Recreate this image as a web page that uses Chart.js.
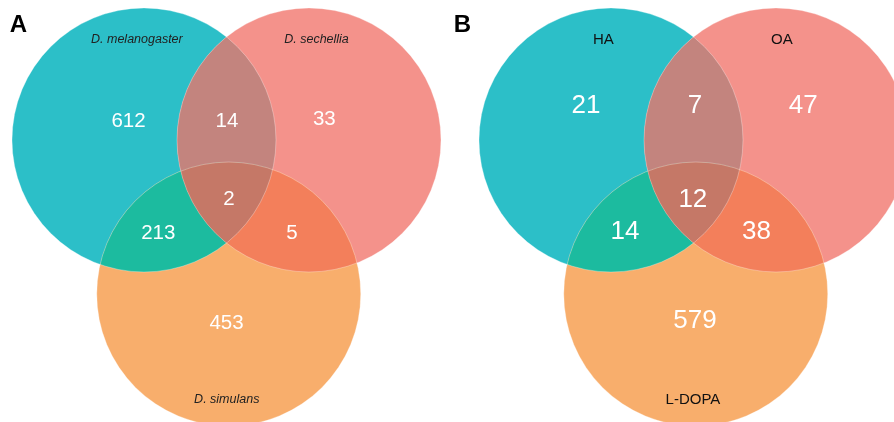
<!DOCTYPE html>
<html>
<head>
<meta charset="utf-8">
<script src="https://cdn.jsdelivr.net/npm/chart.js@4.4.0/dist/chart.umd.min.js"></script>
<style>
  html, body { margin: 0; padding: 0; background: #ffffff; }
  #wrap { display: flex; width: 894px; height: 422px; }
  .panel { position: relative; width: 447px; height: 422px; }
</style>
</head>
<body>
<div id="wrap">
  <div class="panel"><canvas id="vennA"></canvas></div>
  <div class="panel"><canvas id="vennB"></canvas></div>
</div>
<script>
// Region counts, ordered: only 1, only 2, only 3, 1∩2, 1∩3, 2∩3, 1∩2∩3
const setNamesA = ['D. melanogaster', 'D. sechellia', 'D. simulans'];
const countsA = [612, 33, 453, 14, 213, 5, 2];

const setNamesB = ['HA', 'OA', 'L-DOPA'];
const countsB = [21, 47, 579, 7, 14, 38, 12];

// Fill colours for single sets, pairwise overlaps and the triple overlap
const setColors = ['#2CBFC8', '#F4928B', '#F8AE6C'];
const pairColors = { '0-1': '#C3847E', '0-2': '#1CBB9F', '1-2': '#F37F5B' };
const tripleColor = '#C57867';

// Three equal circles (radius 1) in layout units
const circleRadius = 1;
const circleCenters = [[-0.625, 0], [0.625, 0], [0.017, -1.167]];

// Where each region's count sits, same order as the counts
const countPosA = [[-0.742, 0.152], [0.741, 0.170], [0.0, -1.377], [0.004, 0.152], [-0.517, -0.695], [0.496, -0.695], [0.019, -0.436]];
const countPosB = [[-0.814, 0.277], [0.832, 0.277], [0.011, -1.356], [0.011, 0.277], [-0.519, -0.680], [0.477, -0.680], [-0.005, -0.436]];
// Baseline anchors for the set names
const namePosA = [[-0.679, 0.733], [0.682, 0.733], [0.002, -1.989]];
const namePosB = [[-0.683, 0.727], [0.670, 0.727], [-0.004, -2.0]];

const FONT = '"Liberation Sans", Arial, Helvetica, sans-serif';

const vennPlugin = {
  id: 'vennRegions',
  afterDatasetsDraw(chart, args, opts) {
    const ctx = chart.ctx;
    const xs = chart.scales.x, ys = chart.scales.y;
    const rPx = xs.getPixelForValue(circleRadius) - xs.getPixelForValue(0);
    const circles = chart.data.datasets.map((ds, i) => {
      const el = chart.getDatasetMeta(i).data[0];
      return { x: el.x, y: el.y, r: rPx, color: ds.backgroundColor };
    });
    const path = c => { ctx.beginPath(); ctx.arc(c.x, c.y, c.r, 0, Math.PI * 2); ctx.closePath(); };

    ctx.save();
    // whole sets
    circles.forEach(c => { path(c); ctx.fillStyle = c.color; ctx.fill(); });
    // pairwise overlaps
    [[0, 1], [0, 2], [1, 2]].forEach(([i, j]) => {
      ctx.save();
      path(circles[i]); ctx.clip();
      path(circles[j]);
      ctx.fillStyle = pairColors[i + '-' + j];
      ctx.fill();
      ctx.restore();
    });
    // triple overlap
    ctx.save();
    path(circles[0]); ctx.clip();
    path(circles[1]); ctx.clip();
    path(circles[2]);
    ctx.fillStyle = tripleColor;
    ctx.fill();
    ctx.restore();
    // faint light outlines along the arcs
    ctx.strokeStyle = 'rgba(255,255,255,0.3)';
    ctx.lineWidth = 1;
    circles.forEach(c => { path(c); ctx.stroke(); });

    // region counts
    ctx.fillStyle = '#ffffff';
    ctx.textAlign = 'center';
    ctx.textBaseline = 'alphabetic';
    ctx.font = opts.countSize + 'px ' + FONT;
    opts.counts.forEach((v, k) => {
      const p = opts.countPos[k];
      ctx.fillText(String(v), xs.getPixelForValue(p[0]), ys.getPixelForValue(p[1]) + opts.countSize * 0.358);
    });

    // set names
    ctx.fillStyle = opts.nameColor;
    ctx.font = opts.nameStyle + ' ' + opts.nameSize + 'px ' + FONT;
    opts.names.forEach((n, k) => {
      const p = opts.namePos[k];
      ctx.fillText(n, xs.getPixelForValue(p[0]), ys.getPixelForValue(p[1]));
    });

    // panel letter
    ctx.fillStyle = '#000000';
    ctx.font = 'bold 24px ' + FONT;
    ctx.fillText(opts.letter, chart.chartArea.left + opts.letterX, chart.chartArea.top + 32);
    ctx.restore();
  }
};

function makeVenn(canvasId, cfg) {
  const datasets = cfg.names.map((n, i) => ({
    label: n,
    data: [{ x: circleCenters[i][0], y: circleCenters[i][1] }],
    backgroundColor: setColors[i],
    borderWidth: 0,
    hoverBorderWidth: 0,
    radius: 0,
    hoverRadius: 0
  }));
  return new Chart(document.getElementById(canvasId), {
    type: 'bubble',
    data: { datasets },
    options: {
      responsive: true,
      maintainAspectRatio: false,
      animation: false,
      events: [],
      layout: { padding: 0 },
      scales: {
        x: { type: 'linear', min: cfg.xMin, max: cfg.xMax, display: false },
        y: { type: 'linear', min: -2.1364, max: 1.0606, display: false }
      },
      plugins: {
        legend: { display: false },
        tooltip: { enabled: false },
        vennRegions: {
          names: cfg.names,
          counts: cfg.counts,
          countPos: cfg.countPos,
          namePos: cfg.namePos,
          countSize: cfg.countSize,
          nameSize: cfg.nameSize,
          nameStyle: cfg.nameStyle,
          nameColor: cfg.nameColor,
          letter: cfg.letter,
          letterX: cfg.letterX
        }
      }
    },
    plugins: [vennPlugin]
  });
}

makeVenn('vennA', {
  names: setNamesA, counts: countsA, countPos: countPosA, namePos: namePosA,
  xMin: -1.7159, xMax: 1.6705,
  countSize: 20.5, nameSize: 12.5, nameStyle: 'italic', nameColor: '#222222',
  letter: 'A', letterX: 18.5
});

makeVenn('vennB', {
  names: setNamesB, counts: countsB, countPos: countPosB, namePos: namePosB,
  xMin: -1.8674, xMax: 1.5189,
  countSize: 26, nameSize: 15, nameStyle: 'normal', nameColor: '#111111',
  letter: 'B', letterX: 15.5
});
</script>
</body>
</html>
